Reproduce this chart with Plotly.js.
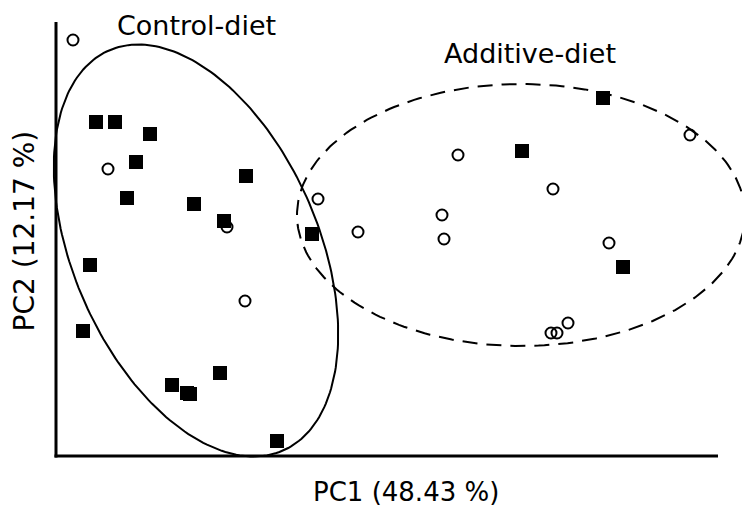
<!DOCTYPE html>
<html>
<head>
<meta charset="utf-8">
<script src="https://cdn.plot.ly/plotly-3.0.1.min.js"></script>
<style>html,body{margin:0;padding:0;background:#fff;}#chart{width:742px;height:508px;}</style>
</head>
<body>
<div id="chart"></div>
<script>
// PCA scores (arbitrary units, 1 unit ≈ 1 px)
const additivePC1 = [17, 52, 171, 189, 262, 302, 386, 388, 402, 497, 553, 634, 495, 501, 512];
const additivePC2 = [416, 287, 229, 155, 257, 224, 241, 217, 301, 267, 213, 321, 123, 123, 133];
const controlPC1 = [40, 59, 94, 80, 71, 138, 168, 190, 256, 34, 27, 116, 131, 134, 164, 221, 466, 547, 567];
const controlPC2 = [334, 334, 322, 294, 258, 252, 235, 280, 222, 191, 125, 71, 63, 62, 83, 15, 305, 358, 189];
const groupLabels = ["Control-diet", "Additive-diet"];
const axisTitles = ["PC1 (48.43 %)", "PC2 (12.17 %)"];

// group ellipses (center, half height, lean of the conjugate diameter, half width)
const controlEllipse = {cx: 140, cy: 205.5, h: 206, lean: -0.28, w: 130};
const additiveEllipse = {cx: 465, cy: 241, h: 131, lean: 0, w: 224};

function ellipsePath(e) {
  const xs = [], ys = [];
  const n = 240;
  for (let i = 0; i <= n; i++) {
    const t = 2 * Math.PI * i / n;
    const s = Math.sin(t), c = Math.cos(t);
    ys.push(e.cy + e.h * s);
    xs.push(e.cx + e.lean * e.h * s + e.w * c);
  }
  return {x: xs, y: ys};
}

const ce = ellipsePath(controlEllipse);
const ae = ellipsePath(additiveEllipse);
const font = "DejaVu Sans, Verdana, sans-serif";

const traces = [
  {x: ce.x, y: ce.y, mode: "lines", line: {color: "#000", width: 2}, hoverinfo: "skip", showlegend: false},
  {x: ae.x, y: ae.y, mode: "lines", line: {color: "#000", width: 2, dash: "15px,9px"}, hoverinfo: "skip", showlegend: false},
  {x: additivePC1, y: additivePC2, mode: "markers", name: "Additive",
   marker: {symbol: "circle-open", size: 11, color: "#000", line: {color: "#000", width: 2}}, showlegend: false},
  {x: controlPC1, y: controlPC2, mode: "markers", name: "Control",
   marker: {symbol: "square", size: 14, color: "#000", line: {width: 0}}, showlegend: false}
];

const layout = {
  width: 742, height: 508,
  margin: {l: 50, r: 0, t: 0, b: 46, pad: 0},
  paper_bgcolor: "#fff", plot_bgcolor: "rgba(0,0,0,0)",
  showlegend: false,
  xaxis: {range: [-6, 686], visible: false, showgrid: false, zeroline: false, fixedrange: true},
  yaxis: {range: [-6, 456], visible: false, showgrid: false, zeroline: false, fixedrange: true},
  shapes: [
    {type: "line", xref: "x", yref: "y", x0: 0, x1: 0, y0: -1.5, y1: 434, line: {color: "#000", width: 3}},
    {type: "line", xref: "x", yref: "y", x0: -1.5, x1: 662, y0: 0, y1: 0, line: {color: "#000", width: 3}}
  ],
  annotations: [
    {text: groupLabels[0], x: 140, y: 431, xref: "x", yref: "y", showarrow: false, xanchor: "center", yanchor: "middle",
     font: {family: font, size: 27, color: "#000"}},
    {text: groupLabels[1], x: 474, y: 403, xref: "x", yref: "y", showarrow: false, xanchor: "center", yanchor: "middle",
     font: {family: font, size: 27, color: "#000"}},
    {text: axisTitles[0], x: 0.5145, y: -0.064, xref: "paper", yref: "paper", showarrow: false, xanchor: "center", yanchor: "middle",
     font: {family: font, size: 26, color: "#000"}},
    {text: axisTitles[1], x: -0.037, y: 0.5, xref: "paper", yref: "paper", showarrow: false, xanchor: "center", yanchor: "middle",
     textangle: -90, font: {family: font, size: 28, color: "#000"}}
  ]
};

Plotly.newPlot("chart", traces, layout, {displayModeBar: false, staticPlot: true});
</script>
</body>
</html>
